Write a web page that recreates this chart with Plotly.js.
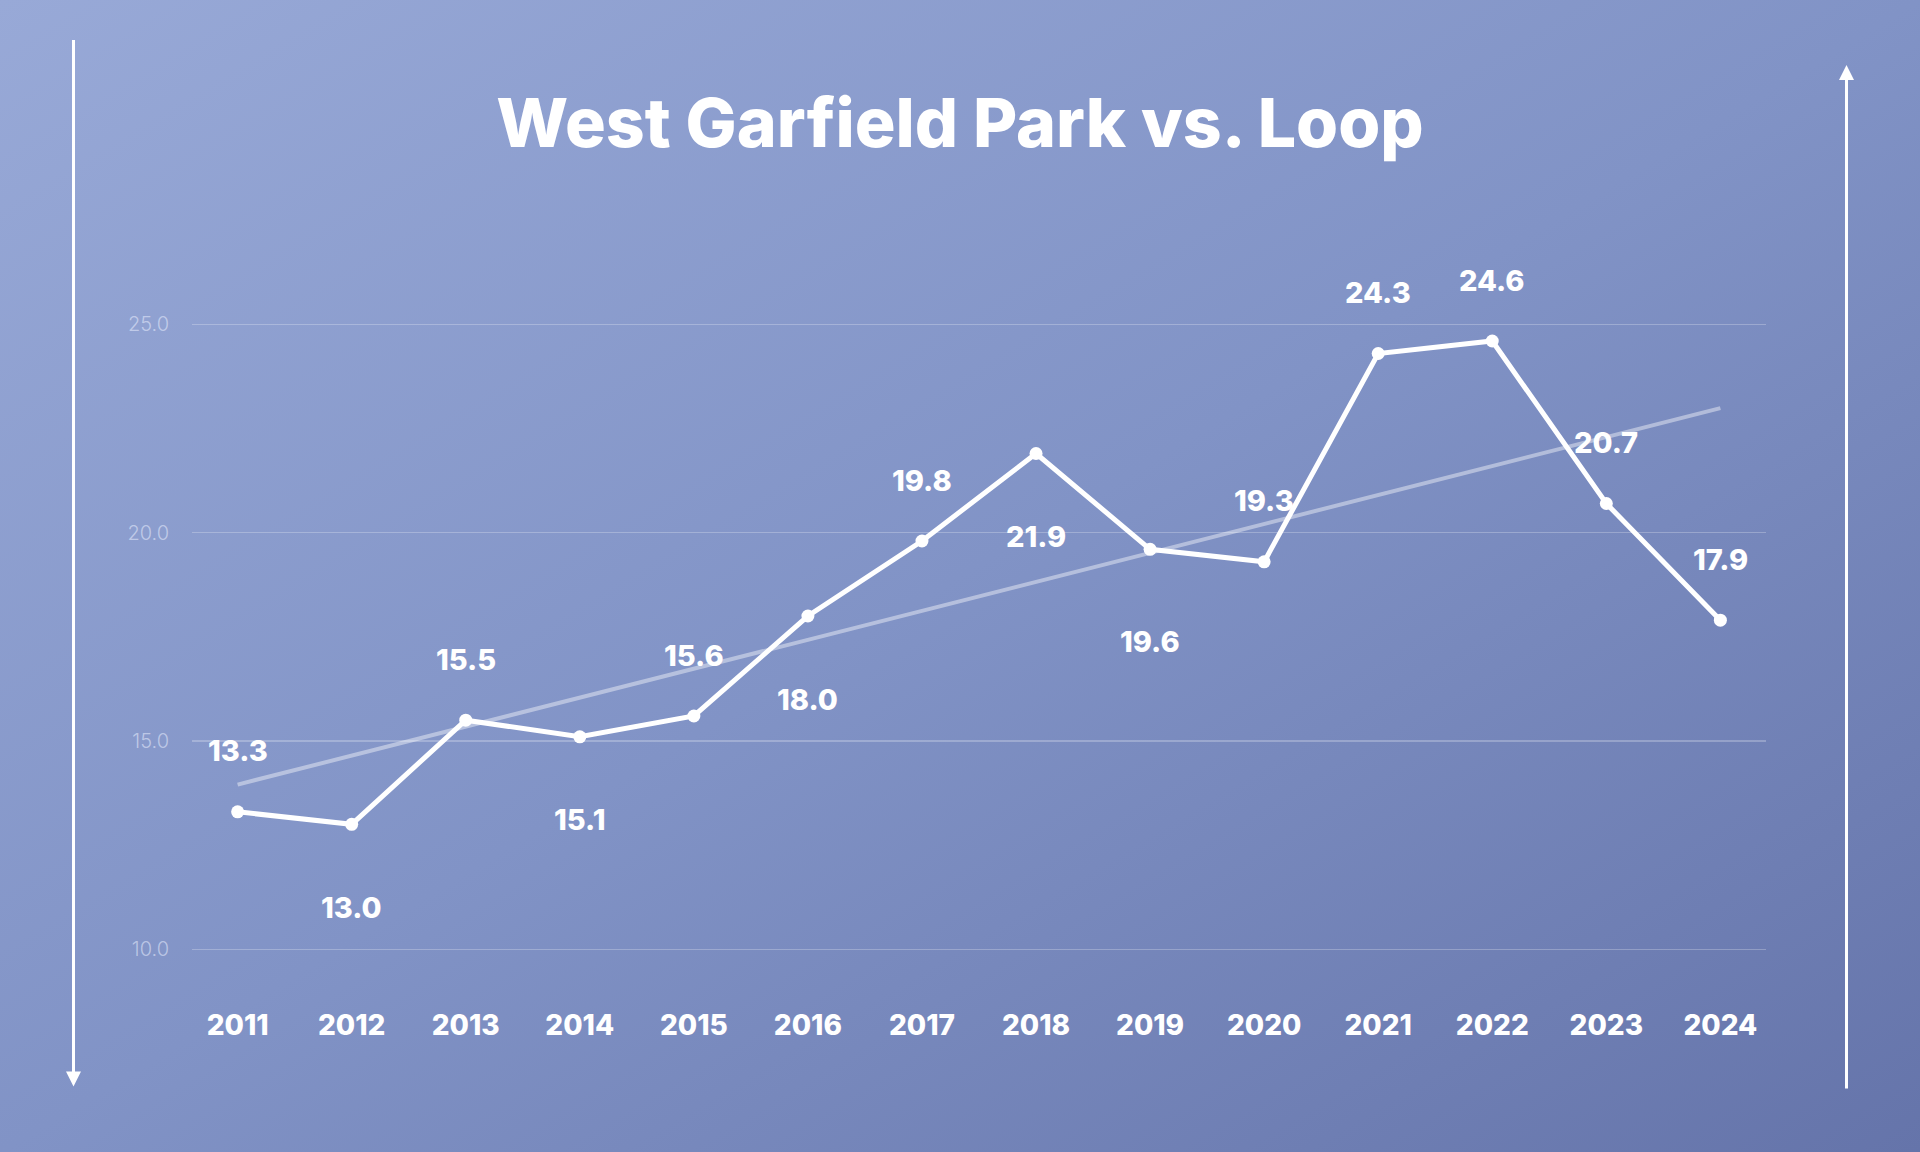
<!DOCTYPE html>
<html>
<head>
<meta charset="utf-8">
<script src="https://cdn.plot.ly/plotly-3.0.1.min.js"></script>
<style>
  html, body { margin: 0; padding: 0; }
  body { width: 1920px; height: 1152px; overflow: hidden;
         background: linear-gradient(to bottom right, #98a9d7 0%, #8193c6 50%, #6574aa 100%); }
  #chart { width: 1920px; height: 1152px; }
</style>
</head>
<body>
<div id="chart"></div>
<script>
// ---- data ----
const years = [2011, 2012, 2013, 2014, 2015, 2016, 2017, 2018, 2019, 2020, 2021, 2022, 2023, 2024];
const values = [13.3, 13.0, 15.5, 15.1, 15.6, 18.0, 19.8, 21.9, 19.6, 19.3, 24.3, 24.6, 20.7, 17.9];
const yTickVals = [10, 15, 20, 25];
const yTickText = ['10.0', '15.0', '20.0', '25.0'];
const xTickText = years.map(String);
const chartTitle = 'West Garfield Park vs. Loop';

// label placement (style): pixel shift of each value label from its point
const labelShift = [61, -83, 61, -83, 61, -83, 61, -83, -92, 61, 61, 61, 61, 61];

// least-squares trend line through the series
const n = years.length;
const mx = years.reduce((a, b) => a + b, 0) / n;
const my = values.reduce((a, b) => a + b, 0) / n;
let sxy = 0, sxx = 0;
for (let i = 0; i < n; i++) { sxy += (years[i] - mx) * (values[i] - my); sxx += (years[i] - mx) ** 2; }
const slope = sxy / sxx;
const trendX = [years[0], years[n - 1]];
const trendY = trendX.map(x => my + slope * (x - mx));

const FONT = 'Inter, "Open Sans", sans-serif';

const traces = [
  {
    x: trendX, y: trendY, type: 'scatter', mode: 'lines',
    line: { color: 'rgba(255,255,255,0.42)', width: 4 },
    hoverinfo: 'skip', showlegend: false
  },
  {
    x: years, y: values, type: 'scatter', mode: 'lines+markers',
    line: { color: '#ffffff', width: 5 },
    marker: { color: '#ffffff', size: 13 },
    hoverinfo: 'skip', showlegend: false
  }
];

const annotations = years.map((yr, i) => ({
  x: yr, y: values[i], xref: 'x', yref: 'y',
  text: values[i].toFixed(1), showarrow: false,
  yanchor: 'middle', xanchor: 'center',
  yshift: labelShift[i],
  font: { family: FONT, size: 29, color: '#ffffff', weight: 800 }
}));

// decorative axis arrows
annotations.push({
  xref: 'paper', yref: 'paper', x: (73.5 - 192) / 1574, y: (991 - 1086.5) / 750,
  ax: 0, ay: -1048, axref: 'pixel', ayref: 'pixel',
  text: '', showarrow: true, arrowhead: 2, arrowsize: 1, arrowwidth: 3, arrowcolor: '#ffffff', standoff: 0
});
annotations.push({
  xref: 'paper', yref: 'paper', x: (1846.5 - 192) / 1574, y: (991 - 65) / 750,
  ax: 0, ay: 1025, axref: 'pixel', ayref: 'pixel',
  text: '', showarrow: true, arrowhead: 2, arrowsize: 1, arrowwidth: 3, arrowcolor: '#ffffff', standoff: 0
});

const layout = {
  width: 1920, height: 1152,
  paper_bgcolor: 'rgba(0,0,0,0)', plot_bgcolor: 'rgba(0,0,0,0)',
  margin: { l: 192, r: 154, t: 241, b: 161, pad: 0 },
  title: {
    text: chartTitle, xref: 'container', yref: 'container', x: 0.5, y: 0.893,
    xanchor: 'center', yanchor: 'middle',
    font: { family: FONT, size: 68, color: '#ffffff', weight: 800 }
  },
  xaxis: {
    type: 'linear', range: [2010.6, 2024.4],
    tickmode: 'array', tickvals: years, ticktext: xTickText,
    showgrid: false, zeroline: false, showline: false, ticks: '',
    ticklabelstandoff: 15,
    tickfont: { family: FONT, size: 28, color: '#ffffff', weight: 800 }
  },
  yaxis: {
    range: [9, 27], tickmode: 'array', tickvals: yTickVals, ticktext: yTickText,
    showgrid: true, gridcolor: 'rgba(255,255,255,0.25)', gridwidth: 1.5,
    zeroline: false, showline: false, ticks: '',
    ticklabelstandoff: 22,
    tickfont: { family: FONT, size: 20, color: 'rgba(235,240,255,0.55)', weight: 300 }
  },
  annotations: annotations,
  showlegend: false
};

Plotly.newPlot('chart', traces, layout, { displayModeBar: false, staticPlot: true });
</script>
</body>
</html>
